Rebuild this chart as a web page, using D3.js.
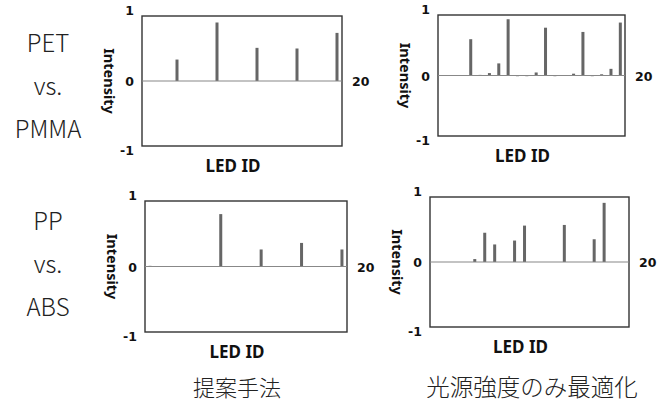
<!DOCTYPE html>
<html lang="ja">
<head>
<meta charset="UTF-8">
<title>LED intensity comparison</title>
<script src="https://cdn.jsdelivr.net/npm/d3@7/dist/d3.min.js"></script>
<style>
  body { margin: 0; background: #fff; }
  svg { display: block; }
</style>
</head>
<body>
<div id="chart"></div>
<script>
// LED ids on the x axis (20 LEDs)
const ledIds = [1, 2, 3, 4, 5, 6, 7, 8, 9, 10, 11, 12, 13, 14, 15, 16, 17, 18, 19, 20];

// values, one per LED
const petProposed      = [0, 0, 0, 0.33, 0, 0, 0, 0.90, 0, 0, 0, 0.51, 0, 0, 0, 0.50, 0, 0, 0, 0.74];
const petIntensityOnly = [0, 0, 0, 0.60, 0.01, 0.04, 0.20, 0.93, 0.005, 0.005, 0.05, 0.79, 0.005, 0, 0.03, 0.72, 0.005, 0.02, 0.11, 0.875];
const ppProposed       = [0.01, 0, 0, 0, 0, 0, 0, 0.80, 0, 0, 0, 0.26, 0, 0, 0, 0.36, 0, 0, 0, 0.26];
const ppIntensityOnly  = [0, 0, 0, 0, 0.045, 0.45, 0.27, 0, 0.33, 0.56, 0, 0, 0, 0.57, 0, 0, 0.35, 0.91, 0, 0];

const yTicks = [-1, 0, 1];
const xEndLabel = "20";
const rowLabels = [["PET", "vs.", "PMMA"], ["PP", "vs.", "ABS"]];
const colLabels = ["提案手法", "光源強度のみ最適化"];

const W = 669, H = 403;
const svg = d3.select("#chart").append("svg")
  .attr("width", W)
  .attr("height", H);

const latin = "'Noto Sans', 'DejaVu Sans', sans-serif";
const tickFont = "'DejaVu Sans', sans-serif";
const jp = "'Noto Sans CJK JP', 'Noto Sans', sans-serif";

// box of each panel in pixels
const panels = [
  { values: petProposed,      x0: 142, x1: 342, y0: 16,  y1: 146 },
  { values: petIntensityOnly, x0: 438, x1: 625, y0: 15,  y1: 136 },
  { values: ppProposed,       x0: 145, x1: 347, y0: 201, y1: 332 },
  { values: ppIntensityOnly,  x0: 430, x1: 629, y0: 197, y1: 327 }
];

panels.forEach(p => {
  const x = d3.scaleBand().domain(ledIds).range([p.x0, p.x1]);
  const y = d3.scaleLinear().domain([-1, 1]).range([p.y1, p.y0]);
  const g = svg.append("g");

  g.append("rect")
    .attr("x", p.x0).attr("y", p.y0)
    .attr("width", p.x1 - p.x0).attr("height", p.y1 - p.y0)
    .attr("fill", "none").attr("stroke", "#333").attr("stroke-width", 1.4);

  // bars
  g.selectAll("rect.bar")
    .data(ledIds.map((id, i) => ({ id, v: p.values[i] })).filter(d => d.v > 0))
    .join("rect")
    .attr("class", "bar")
    .attr("x", d => x(d.id) + x.bandwidth() / 2 - 1.5)
    .attr("width", 3)
    .attr("y", d => y(d.v))
    .attr("height", d => Math.max(1, y(0) - y(d.v)))
    .attr("fill", "#666");

  // zero line
  g.append("line")
    .attr("x1", p.x0).attr("x2", p.x1)
    .attr("y1", y(0)).attr("y2", y(0))
    .attr("stroke", "#888").attr("stroke-width", 1.2);

  // y tick labels
  g.selectAll("text.tick")
    .data(yTicks)
    .join("text")
    .attr("class", "tick")
    .attr("x", p.x0 - 8)
    .attr("y", d => d === 1 ? y(d) - 1 : d === -1 ? y(d) + 9 : y(d) + 5)
    .attr("text-anchor", "end")
    .attr("font-family", tickFont).attr("font-weight", "bold").attr("font-size", 12.5)
    .attr("fill", "#111")
    .text(d => d);

  g.append("text")
    .attr("x", p.x1 + 10).attr("y", y(0) + 5)
    .attr("font-family", tickFont).attr("font-weight", "bold").attr("font-size", 12.5)
    .attr("fill", "#111")
    .text(xEndLabel);

  g.append("text")
    .attr("transform", `translate(${p.x0 - 38},${y(0)}) rotate(90)`)
    .attr("text-anchor", "middle")
    .attr("font-family", latin).attr("font-weight", "bold").attr("font-size", 14.5)
    .attr("fill", "#111")
    .text("Intensity");

  g.append("text")
    .attr("x", (p.x0 + p.x1) / 2 - 9).attr("y", p.y1 + 26)
    .attr("text-anchor", "middle")
    .attr("font-family", latin).attr("font-weight", "bold").attr("font-size", 17)
    .attr("fill", "#111")
    .text("LED ID");
});

// row labels on the left
const rowY = [52, 230];
rowLabels.forEach((lines, r) => {
  svg.append("text")
    .attr("text-anchor", "middle")
    .attr("font-family", jp).attr("font-weight", 300).attr("font-size", 24)
    .attr("fill", "#222")
    .selectAll("tspan")
    .data(lines)
    .join("tspan")
    .attr("x", 48)
    .attr("y", (d, i) => rowY[r] + i * 43)
    .text(d => d);
});

// column labels at the bottom
const colX = [237, 532];
const colSize = [22, 23.5];
colLabels.forEach((t, i) => {
  svg.append("text")
    .attr("x", colX[i]).attr("y", 396)
    .attr("text-anchor", "middle")
    .attr("font-family", jp).attr("font-weight", 300).attr("font-size", colSize[i])
    .attr("fill", "#222")
    .text(t);
});
</script>
</body>
</html>
